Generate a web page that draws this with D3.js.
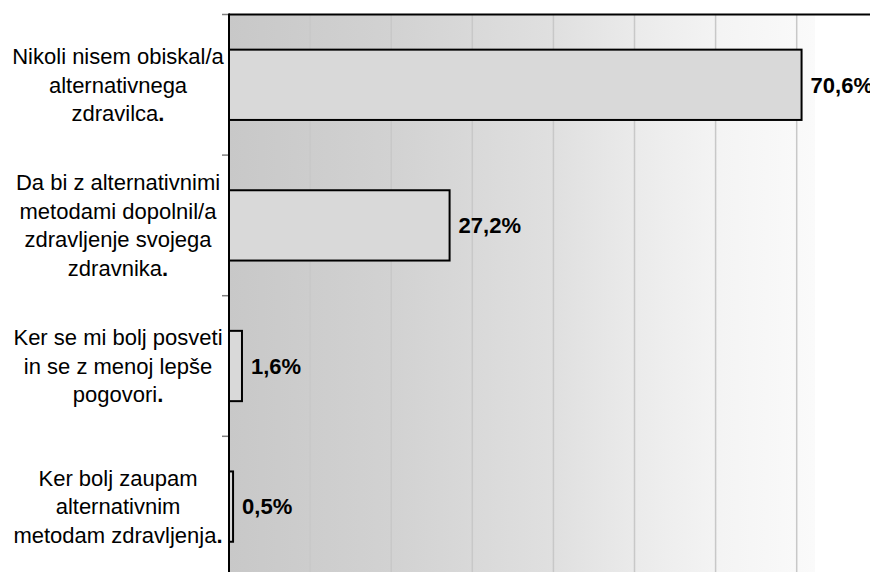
<!DOCTYPE html>
<html>
<head>
<meta charset="utf-8">
<script src="https://cdn.jsdelivr.net/npm/d3@7"></script>
<style>
  html, body { margin: 0; padding: 0; background: #fff; }
  svg { display: block; font-family: "Liberation Sans", Arial, sans-serif; }
</style>
</head>
<body>
<svg id="chart" width="870" height="572"></svg>
<script>
// =====================
// Data
// =====================
const categories = [
  "Nikoli nisem obiskal/a alternativnega zdravilca.",
  "Da bi z alternativnimi metodami dopolnil/a zdravljenje svojega zdravnika.",
  "Ker se mi bolj posveti in se z menoj lepše pogovori.",
  "Ker bolj zaupam alternativnim metodam zdravljenja."
];
const labelLines = [
  ["Nikoli nisem obiskal/a", "alternativnega", "zdravilca"],
  ["Da bi z alternativnimi", "metodami dopolnil/a", "zdravljenje svojega", "zdravnika"],
  ["Ker se mi bolj posveti", "in se z menoj lepše", "pogovori"],
  ["Ker bolj zaupam", "alternativnim", "metodam zdravljenja"]
];
const values = [70.6, 27.2, 1.6, 0.5];
const valueLabels = ["70,6%", "27,2%", "1,6%", "0,5%"];
const gridTicks = [10, 20, 30, 40, 50, 60, 70];

// =====================
// Layout
// =====================
const
  axisX = 229,       // position of the vertical axis
  topY = 14.5,       // top frame line
  bandStep = 140.6,  // height of each category band
  bgEnd = 815,       // where the shaded background stops
  labelX = 118,      // centre of the category labels
  lineH = 28.7;      // line spacing of category labels

const svg = d3.select('#chart');
const W = +svg.attr('width'), H = +svg.attr('height');

const xScale = d3.scaleLinear([0, 80], [axisX, axisX + 81.1 * 8]);
const yScale = d3.scaleBand(categories, [topY, topY + bandStep * categories.length])
  .paddingInner(0.5)
  .paddingOuter(0.25);

// =====================
// Background gradient
// =====================
const defs = svg.append('defs');
const grad = defs.append('linearGradient')
  .attr('id', 'bg')
  .attr('gradientUnits', 'userSpaceOnUse')
  .attr('x1', axisX).attr('x2', bgEnd).attr('y1', 0).attr('y2', 0);
const stops = [
  [0, '#c8c8c8'], [0.14, '#cdcdcd'], [0.28, '#d2d2d2'], [0.42, '#d9d9d9'],
  [0.56, '#e0e0e0'], [0.70, '#ebebeb'], [0.84, '#f4f4f4'], [0.97, '#f9f9f9'], [1, '#fafafa']
];
grad.selectAll('stop').data(stops).enter().append('stop')
  .attr('offset', d => d[0]).attr('stop-color', d => d[1]);

svg.append('rect')
  .attr('x', axisX).attr('y', topY)
  .attr('width', bgEnd - axisX).attr('height', H - topY)
  .attr('fill', 'url(#bg)');

// Vertical gridlines
svg.append('g').selectAll('line')
  .data(gridTicks).enter().append('line')
  .attr('x1', d => xScale(d)).attr('x2', d => xScale(d))
  .attr('y1', topY).attr('y2', H)
  .attr('stroke', '#c8c8c8').attr('stroke-width', 1.5);

// =====================
// Bars
// =====================
svg.append('g').selectAll('rect')
  .data(values).enter().append('rect')
  .attr('x', xScale(0))
  .attr('y', (d, i) => yScale(categories[i]))
  .attr('width', d => xScale(d) - xScale(0))
  .attr('height', yScale.bandwidth())
  .attr('fill', '#d9d9d9')
  .attr('stroke', '#000')
  .attr('stroke-width', 2);

// Value labels
svg.append('g').selectAll('text')
  .data(values).enter().append('text')
  .attr('x', d => xScale(d) + 9)
  .attr('y', (d, i) => yScale(categories[i]) + yScale.bandwidth() / 2)
  .attr('dy', '0.35em')
  .attr('font-size', 22)
  .attr('font-weight', 'bold')
  .attr('fill', '#000')
  .text((d, i) => valueLabels[i]);

// =====================
// Axis & frame
// =====================
const bandStarts = categories.map(c => yScale(c) - yScale.step() * 0.25);
svg.append('g').selectAll('line')
  .data(bandStarts).enter().append('line')
  .attr('x1', axisX - 7).attr('x2', axisX)
  .attr('y1', d => d).attr('y2', d => d)
  .attr('stroke', '#808080').attr('stroke-width', 1.5);

svg.append('line')
  .attr('x1', axisX).attr('x2', W)
  .attr('y1', topY).attr('y2', topY)
  .attr('stroke', '#000').attr('stroke-width', 2);

svg.append('line')
  .attr('x1', axisX).attr('x2', axisX)
  .attr('y1', topY - 1).attr('y2', H)
  .attr('stroke', '#000').attr('stroke-width', 2);

// Category labels (multi-line, centred)
const lbl = svg.append('g').selectAll('text')
  .data(categories).enter().append('text')
  .attr('text-anchor', 'middle')
  .attr('font-size', 22)
  .attr('fill', '#000');

lbl.each(function (c, i) {
  const lines = labelLines[i];
  const cy = yScale(c) + yScale.bandwidth() / 2;
  const y0 = cy - (lines.length - 1) * lineH / 2;
  const t = d3.select(this);
  lines.forEach((ln, j) => {
    const ts = t.append('tspan')
      .attr('x', labelX)
      .attr('y', y0 + j * lineH)
      .attr('dy', '0.35em')
      .text(ln);
    if (j === lines.length - 1) {
      ts.append('tspan').attr('font-weight', 'bold').text('.');
    }
  });
});
</script>
</body>
</html>
